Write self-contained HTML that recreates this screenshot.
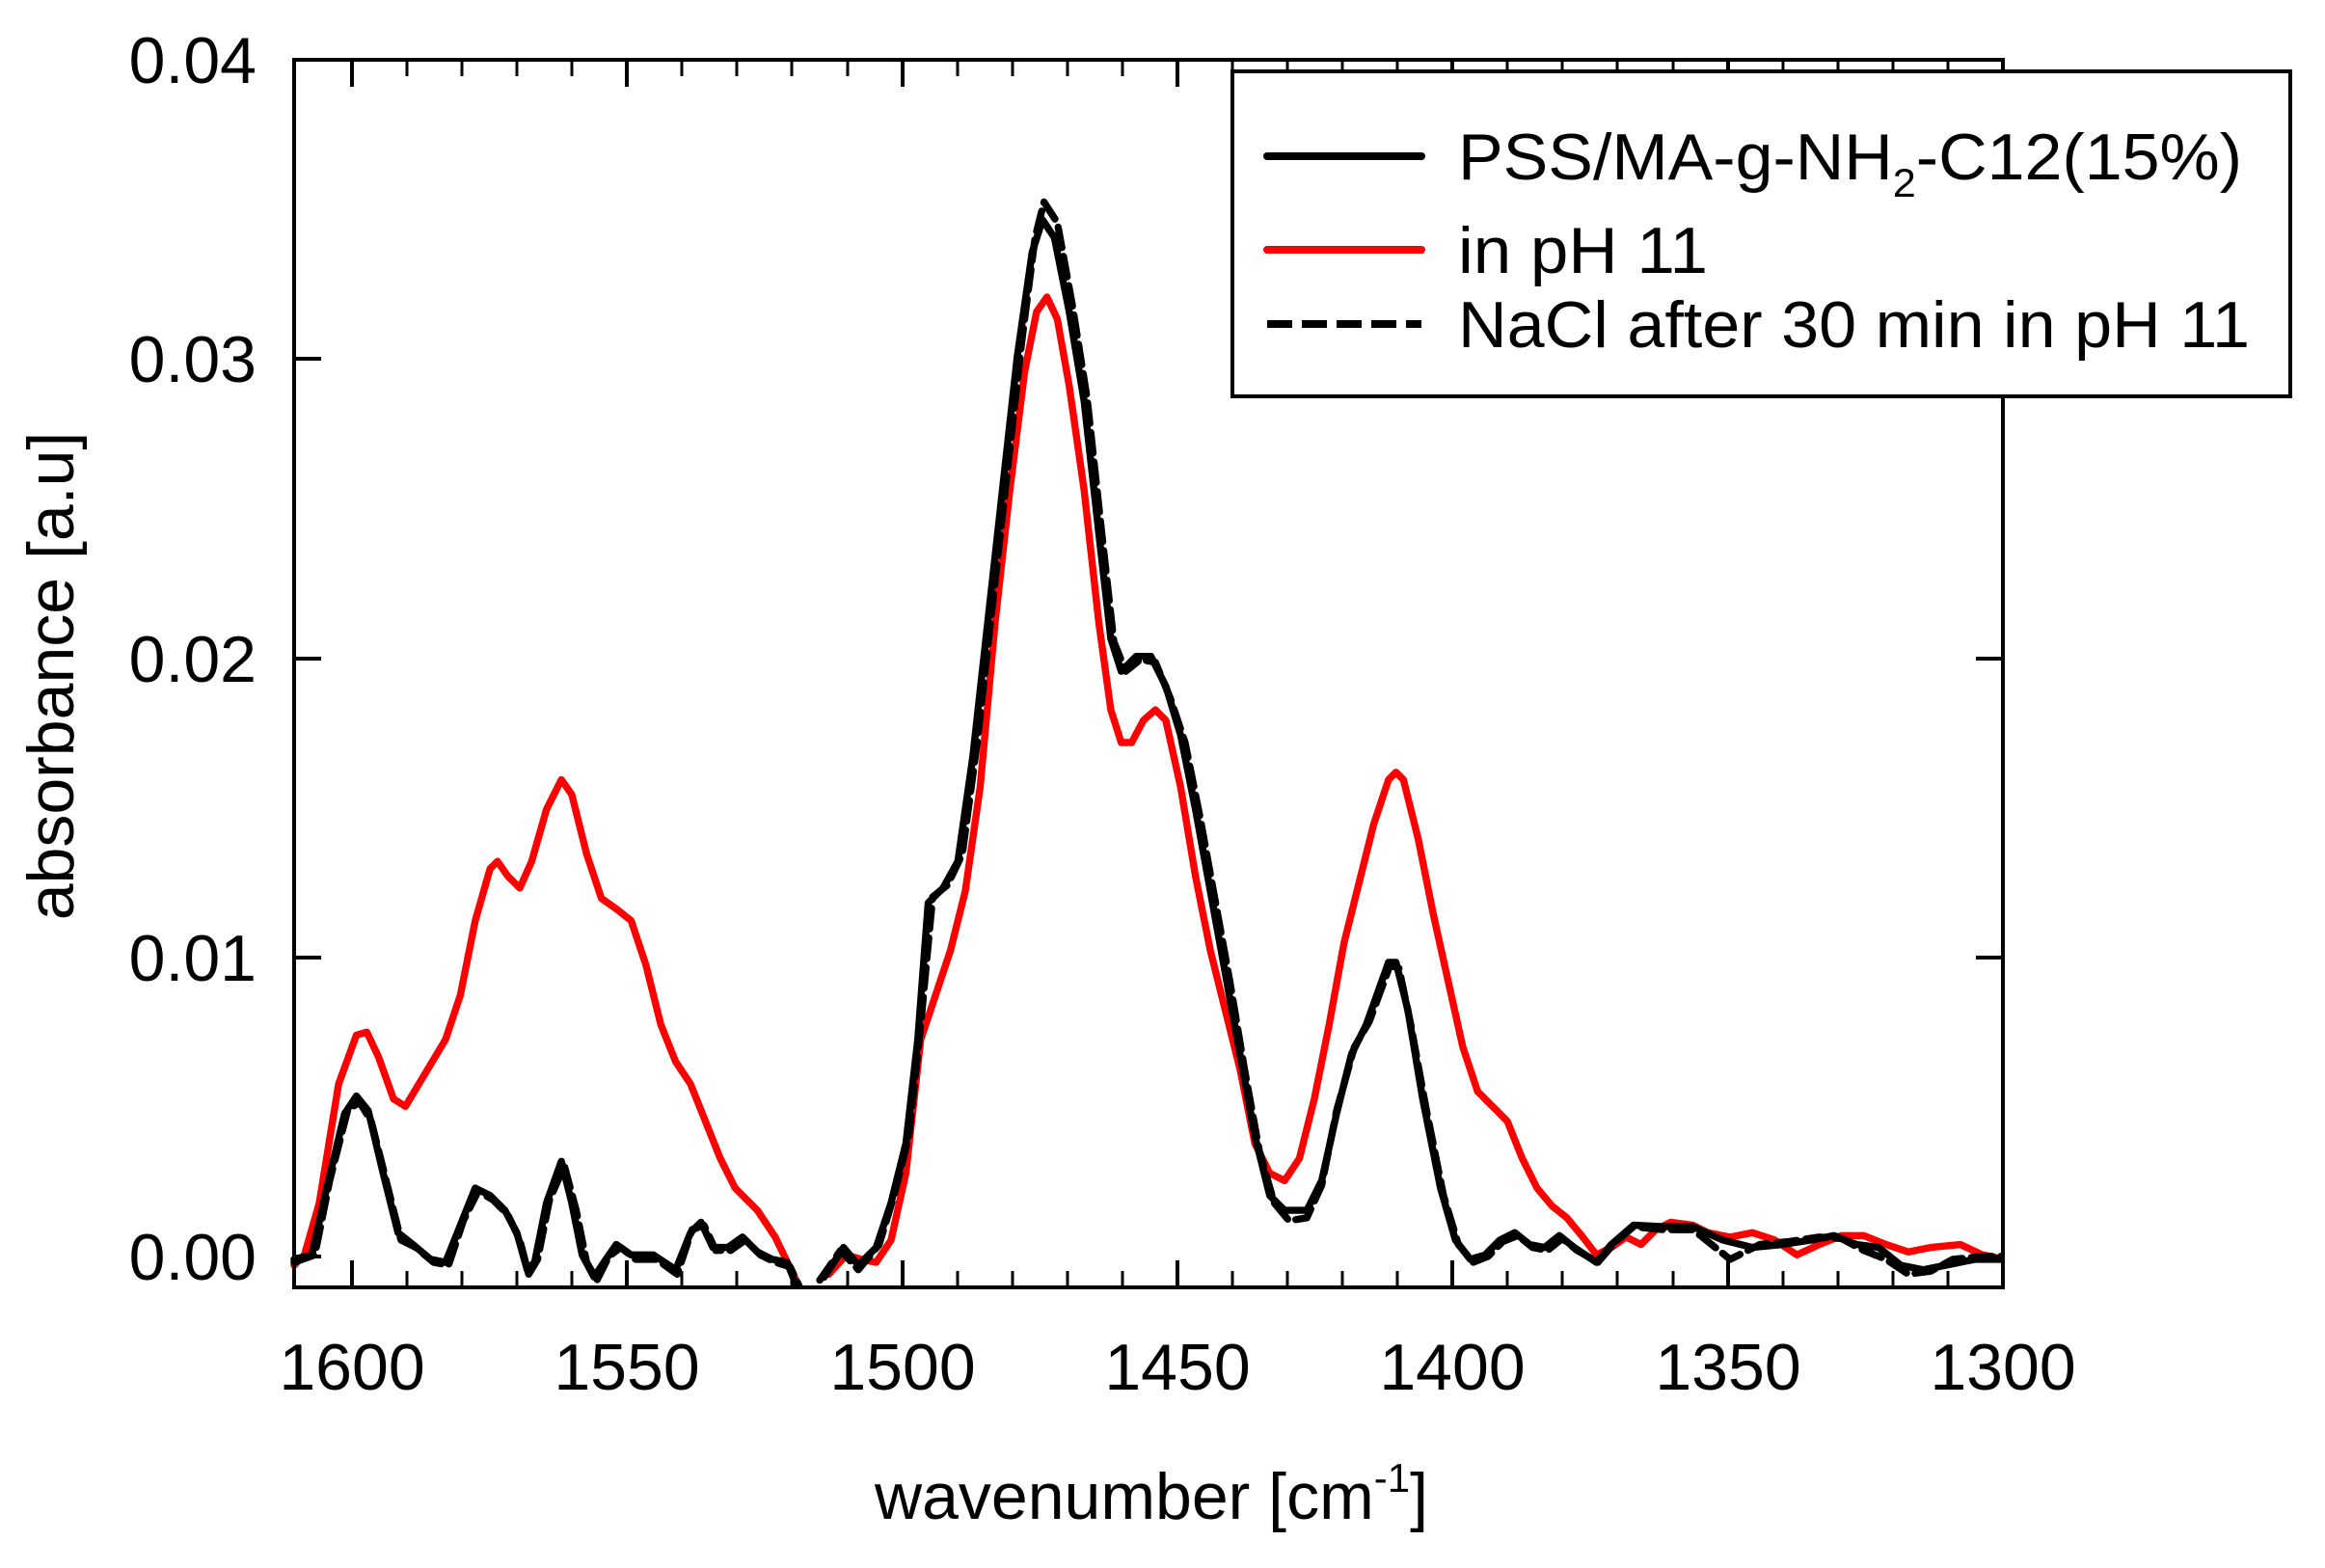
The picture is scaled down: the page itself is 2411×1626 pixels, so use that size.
<!DOCTYPE html>
<html><head><style>html,body{margin:0;padding:0;background:#fff}svg{display:block}</style></head><body>
<svg width="2411" height="1626" viewBox="0 0 2411 1626" xmlns="http://www.w3.org/2000/svg" font-family="Liberation Sans, Arial, sans-serif">
<rect width="2411" height="1626" fill="#fff"/>
<g transform="scale(1.54)" fill="none" stroke-linejoin="round" stroke-linecap="round">
<polyline stroke="#f00" stroke-width="4.8" points="198,852 205,845 215,810 228,730 240,697 247,695 255,712 265,740 273,745 285,725 300,700 310,670 320,620 330,585 335,580 342,590 350,598 358,580 368,545 378,525 385,535 395,575 405,605 415,612 425,620 435,650 445,690 455,715 465,730 475,755 485,780 495,800 510,815 522,833 535,860 540,870"/>
<polyline stroke="#f00" stroke-width="4.8" points="558,858 570,845 580,848 590,850 600,835 610,790 620,700 630,670 640,640 650,600 660,530 670,420 680,330 690,250 698,210 705,200 712,215 720,260 730,330 740,420 748,478 755,500 762,500 770,485 778,478 785,485 795,530 805,590 815,640 825,680 835,720 845,770 855,790 865,795 875,780 885,740 895,690 905,635 915,595 925,555 935,525 940,520 945,525 955,565 965,615 975,660 985,705 995,735 1005,745 1015,755 1025,780 1035,800 1045,812 1055,820 1065,832 1075,845 1085,840 1095,833 1105,838 1115,828 1125,823 1140,825 1150,830 1165,833 1180,830 1195,835 1210,845 1225,838 1240,832 1255,832 1270,838 1285,843 1300,840 1320,838 1335,845 1350,848"/>
<polyline stroke="#000" stroke-width="4.8" points="198,848 210,845 220,800 232,750 240,738 248,748 258,790 268,830 278,838 290,848 300,850 310,825 320,800 330,805 340,815 348,830 355,855 360,850 368,810 378,782 385,810 392,845 400,860 408,848 415,838 425,845 440,845 455,855 465,830 472,823 480,840 490,840 500,833 510,843 520,848 530,850 538,870"/>
<polyline stroke="#000" stroke-width="4.8" points="555,860 568,840 578,852 590,840 600,810 610,770 618,700 625,608 635,598 645,580 655,510 665,420 675,330 685,240 695,170 702,148 710,160 720,210 730,270 740,360 748,430 755,452 765,442 775,442 785,462 795,495 805,545 815,600 825,655 835,710 845,765 855,805 865,815 880,815 890,795 900,750 910,710 920,690 935,648 940,648 948,680 958,740 970,800 980,835 990,848 1000,845 1010,835 1020,830 1030,838 1040,840 1050,832 1060,840 1075,850 1085,838 1100,825 1120,826 1140,826 1160,835 1180,840 1200,838 1220,835 1235,832 1250,838 1265,840 1280,852 1295,855 1310,852 1330,848 1350,848"/>
<polyline stroke="#000" stroke-width="4.8" stroke-dasharray="14,6" points="198,850 212,845 222,795 234,748 242,742 250,755 260,795 270,835 280,840 292,850 302,852 312,822 322,802 332,808 342,818 350,835 356,858 362,848 370,808 380,785 388,815 395,850 402,862 410,846 418,840 428,848 442,848 456,858 466,828 474,825 482,842 492,842 502,835 512,845 522,850 532,853 540,870"/>
<polyline stroke="#000" stroke-width="4.8" stroke-dasharray="14,6" points="552,862 566,842 578,855 592,838 602,805 612,765 620,690 628,604 638,596 648,575 658,500 668,410 678,320 688,230 697,160 703,136 712,150 722,205 732,268 742,360 750,432 758,452 768,444 778,446 788,470 798,500 808,550 818,605 828,660 838,720 848,775 858,810 868,822 880,820 890,798 900,748 912,705 922,688 936,650 942,652 950,690 960,745 972,805 982,838 992,850 1002,846 1012,836 1022,832 1032,840 1042,842 1052,834 1062,842 1076,850 1088,836 1100,826 1120,828 1140,828 1165,848 1185,838 1205,836 1225,833 1240,834 1255,842 1270,848 1285,858 1300,856 1315,848 1335,846 1350,846"/>
</g>
<rect x="0" y="1337" width="2411" height="289" fill="#fff"/>
<rect x="0" y="0" width="2411" height="60" fill="#fff"/>
<rect x="2079" y="0" width="332" height="1626" fill="#fff"/>
<rect x="305" y="62" width="1772" height="1273" fill="none" stroke="#000" stroke-width="4"/>
<g stroke="#000" stroke-width="4">
<line x1="365" y1="1335" x2="365" y2="1307"/><line x1="650" y1="1335" x2="650" y2="1307"/><line x1="936" y1="1335" x2="936" y2="1307"/><line x1="1221" y1="1335" x2="1221" y2="1307"/><line x1="1506" y1="1335" x2="1506" y2="1307"/><line x1="1792" y1="1335" x2="1792" y2="1307"/>
<line x1="365" y1="62" x2="365" y2="90"/><line x1="650" y1="62" x2="650" y2="90"/><line x1="936" y1="62" x2="936" y2="90"/><line x1="1221" y1="62" x2="1221" y2="90"/><line x1="1506" y1="62" x2="1506" y2="90"/><line x1="1792" y1="62" x2="1792" y2="90"/>
<line x1="305" y1="1303" x2="333" y2="1303"/><line x1="305" y1="993" x2="333" y2="993"/><line x1="305" y1="683" x2="333" y2="683"/><line x1="305" y1="372" x2="333" y2="372"/>
<line x1="2077" y1="1303" x2="2049" y2="1303"/><line x1="2077" y1="993" x2="2049" y2="993"/><line x1="2077" y1="683" x2="2049" y2="683"/><line x1="2077" y1="372" x2="2049" y2="372"/>
</g>
<g stroke="#000" stroke-width="3">
<path d="M422 1335v-17M479 1335v-17M536 1335v-17M593 1335v-17M707 1335v-17M764 1335v-17M821 1335v-17M879 1335v-17M993 1335v-17M1050 1335v-17M1107 1335v-17M1164 1335v-17M1278 1335v-17M1335 1335v-17M1392 1335v-17M1449 1335v-17M1563 1335v-17M1620 1335v-17M1677 1335v-17M1735 1335v-17M1849 1335v-17M1906 1335v-17M1963 1335v-17M2020 1335v-17"/>
<path d="M422 62v17M479 62v17M536 62v17M593 62v17M707 62v17M764 62v17M821 62v17M879 62v17M993 62v17M1050 62v17M1107 62v17M1164 62v17M1278 62v17M1335 62v17M1392 62v17M1449 62v17M1563 62v17M1620 62v17M1677 62v17M1735 62v17M1849 62v17M1906 62v17M1963 62v17M2020 62v17"/>
</g>
<rect x="1278" y="74" width="1097" height="337" fill="#fff" stroke="#000" stroke-width="4"/>
<line x1="1314" y1="162" x2="1474" y2="162" stroke="#000" stroke-width="8" stroke-linecap="round"/>
<line x1="1314" y1="259" x2="1474" y2="259" stroke="#f00" stroke-width="8" stroke-linecap="round"/>
<line x1="1314" y1="336" x2="1474" y2="336" stroke="#000" stroke-width="8" stroke-dasharray="26,10"/>
<g font-size="68" fill="#000">
<text x="1512" y="186" textLength="813" lengthAdjust="spacingAndGlyphs">PSS/MA-g-NH<tspan font-size="42" dy="18">2</tspan><tspan dy="-18">-C12(15%)</tspan></text>
<text x="1512" y="283" textLength="259" lengthAdjust="spacingAndGlyphs">in pH 11</text>
<text x="1512" y="360" textLength="821" lengthAdjust="spacingAndGlyphs">NaCl after 30 min in pH 11</text>
</g>
<g font-size="68" fill="#000" text-anchor="end">
<text x="266" y="1327">0.00</text><text x="266" y="1017">0.01</text><text x="266" y="707">0.02</text><text x="266" y="396">0.03</text><text x="266" y="86">0.04</text>
</g>
<g font-size="68" fill="#000" text-anchor="middle">
<text x="365" y="1441">1600</text><text x="650" y="1441">1550</text><text x="936" y="1441">1500</text><text x="1221" y="1441">1450</text><text x="1506" y="1441">1400</text><text x="1792" y="1441">1350</text><text x="2077" y="1441">1300</text>
</g>
<text x="1194" y="1575" font-size="68" text-anchor="middle">wavenumber [cm<tspan font-size="42" dy="-28">-1</tspan><tspan dy="28">]</tspan></text>
<text transform="translate(76,701) rotate(-90)" font-size="68" text-anchor="middle">absorbance [a.u]</text>
</svg>
</body></html>
